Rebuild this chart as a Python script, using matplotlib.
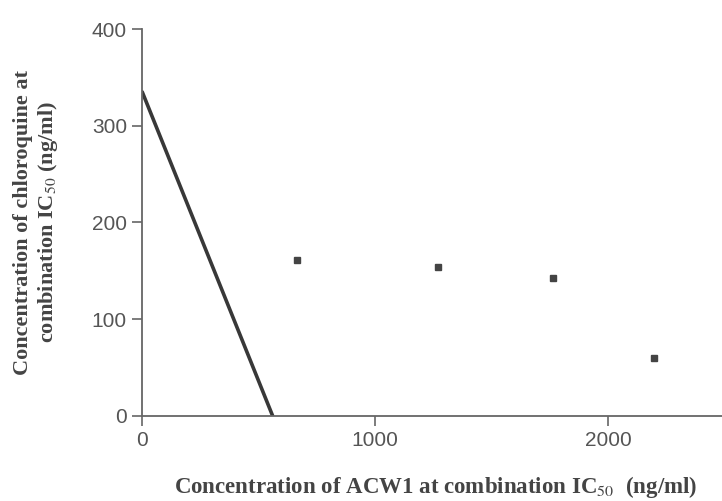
import matplotlib
matplotlib.use("Agg")
import matplotlib.pyplot as plt

# Additivity (isobole) line
line_x = [0, 560]
line_y = [335, 0]

# Observed combination IC50 points
pts_x = [665, 1270, 1765, 2197]
pts_y = [161, 154, 143, 60]

xticks = [0, 1000, 2000]
yticks = [0, 100, 200, 300, 400]

fig = plt.figure(figsize=(7.22, 5.01), dpi=100)
ax = fig.add_axes([0.197, 0.170, 0.803, 0.772])

ax.plot(line_x, line_y, color="#383838", lw=2.6, solid_capstyle="round")
ax.plot(pts_x, pts_y, ls="none", marker="s", ms=4.5, color="#444444")

ax.set_xlim(0, 2490)
ax.set_ylim(0, 400)
ax.set_xticks(xticks)
ax.set_yticks(yticks)

for s in ["top", "right"]:
    ax.spines[s].set_visible(False)
for s in ["left", "bottom"]:
    ax.spines[s].set_color("#666666")
    ax.spines[s].set_linewidth(1.3)
ax.spines["left"].set_bounds(0, 400)

ax.tick_params(axis="both", direction="out", length=7, width=1.2,
               color="#666666", labelsize=15, labelcolor="#555555", pad=4)
for lab in ax.get_xticklabels() + ax.get_yticklabels():
    lab.set_family("Liberation Sans")

ax.set_xlabel("Concentration of ACW1 at combination IC$_{50}$  (ng/ml)",
              family="Liberation Serif", fontweight="bold", fontsize=16.5,
              color="#444444")
ax.set_ylabel("Concentration of chloroquine at\ncombination IC$_{50}$ (ng/ml)",
              family="Liberation Serif", fontweight="bold", fontsize=16,
              color="#444444", linespacing=1.15)
ax.xaxis.label.set_math_fontfamily("stix")
ax.yaxis.label.set_math_fontfamily("stix")
ax.xaxis.set_label_coords(0.507, -0.15)
ax.yaxis.set_label_coords(-0.142, 0.5)

fig.savefig("out.png", dpi=100)
